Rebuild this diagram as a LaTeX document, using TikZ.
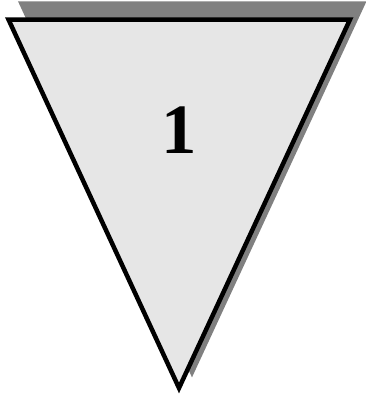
\documentclass[tikz,border=0pt]{standalone}
\usepackage{fontspec}
\setmainfont{Liberation Serif}
\definecolor{shadowgray}{HTML}{808080}
\definecolor{facegray}{HTML}{E6E6E6}
\begin{document}
\begin{tikzpicture}[x=1bp,y=-1bp,
  tri/.style={line width=4.5bp,line join=miter},
  label/.style={font=\fontsize{71}{71}\selectfont\bfseries,inner sep=0pt,anchor=base}]
\useasboundingbox (0,0) rectangle (366,399);
\coordinate (tl) at (8.5,19.5);
\coordinate (tr) at (350,19.5);
\coordinate (bt) at (179,388);
\filldraw[fill=shadowgray,draw=shadowgray,tri] ([shift={(13,-16)}]tl) -- ([shift={(13,-16)}]tr) -- ([shift={(13,-16)}]bt) -- cycle;
\filldraw[fill=facegray,draw=black,tri] (tl) -- (tr) -- (bt) -- cycle;
\node[label] (num) at (179,153) {1};
\end{tikzpicture}
\end{document}
